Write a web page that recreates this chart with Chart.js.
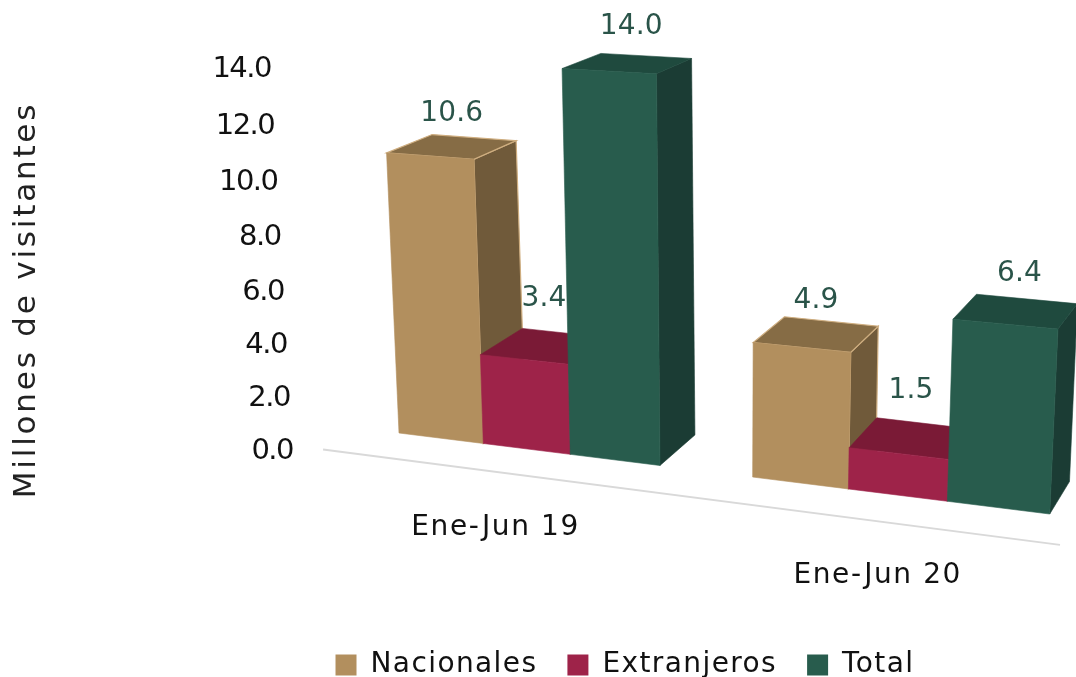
<!DOCTYPE html>
<html><head><meta charset="utf-8">
<style>html,body{margin:0;padding:0;background:#fff;overflow:hidden}canvas{display:block;filter:blur(.4px)}</style>
<script src="https://cdn.jsdelivr.net/npm/chart.js@4"></script>
</head><body><canvas id="c" width="1076" height="677"></canvas>
<script>
const categories = ['Ene-Jun 19', 'Ene-Jun 20'];
const nacionales = [10.6, 4.9];
const extranjeros = [3.4, 1.5];
const total = [14.0, 6.4];
const seriesNames = ['Nacionales', 'Extranjeros', 'Total'];
const frontColors = ['#B28F5E', '#9E2349', '#285C4D'];
const topColors = ['#866C45', '#7A1A36', '#1F4A3E'];
const sideColors = ['#705A3A', '#7A1A36', '#1B3C34'];
const edgeColors = ['#CFAE80', null, null];
const labelLift = [33, 47, 37];
const labelShift = [-1, -1, 3];

const FONT = '"DejaVu Sans"';
const H = {a:76.9,b:-2.51,h:399,c:-.0153,g:-.00346,d:3.71,e:-26.95,f:433};
const VP = [1556,-319], DEPTH = .039;
function project(s,v){const w=1+H.c*s+H.g*v;return [(H.a*s+H.b*v+H.h)/w,(H.d*s+H.e*v+H.f)/w];}
function deep(p,k){return [p[0]+k*(VP[0]-p[0]),p[1]+k*(VP[1]-p[1])];}
function poly(ctx,pts,fill,stroke){ctx.beginPath();pts.forEach((p,i)=>i?ctx.lineTo(p[0],p[1]):ctx.moveTo(p[0],p[1]));ctx.closePath();ctx.fillStyle=fill;ctx.fill();ctx.strokeStyle=stroke||fill;ctx.lineWidth=stroke?1.2:.6;ctx.stroke();}
function text(ctx,str,x,y,color,size,spacing){ctx.font=size+'px '+FONT;ctx.letterSpacing=spacing+'px';ctx.fillStyle=color;ctx.textAlign='center';ctx.textBaseline='middle';ctx.fillText(str,x,y);}

const box3d = {
  id:'box3d',
  beforeLayout(chart){chart.ctx.letterSpacing='1.4px';},
  afterLayout(chart){
    const s=chart.scales.y, orig=s.drawTitle, ctx=chart.ctx;
    if(!s._spaced){s._spaced=true;s.drawTitle=function(){ctx.save();ctx.letterSpacing='2.8px';orig.call(s);ctx.restore();};}
  },
  beforeDraw(chart){chart.ctx.letterSpacing='1.4px';},
  beforeDatasetDraw(){return false;},
  afterDatasetsDraw(chart){
    const ctx=chart.ctx, area=chart.chartArea, ys=chart.scales.y, xs=chart.scales.x;
    const toS=px=>(px-area.left)/area.width*8-.5;
    ctx.save();
    // floor line
    const f0=deep(project(-.5,0),-.029), f1=deep(project(7.25,0),-.033);
    ctx.beginPath();ctx.moveTo(f0[0],f0[1]);ctx.lineTo(f1[0],f1[1]);ctx.strokeStyle='#D9D9D9';ctx.lineWidth=2;ctx.stroke();
    // boxes, left to right
    const items=[];
    chart.data.datasets.forEach((ds,di)=>{chart.getDatasetMeta(di).data.forEach((el,i)=>{
      const p=el.getProps(['x','y','width'],true);
      items.push({di,i,s0:toS(p.x-p.width/2),s1:toS(p.x+p.width/2),v:ys.getValueForPixel(p.y),val:ds.data[i]});
    });});
    items.sort((a,b)=>a.s0-b.s0);
    items.forEach(b=>{
      const fl=project(b.s0,0),fr=project(b.s1,0),tl=project(b.s0,b.v),tr=project(b.s1,b.v);
      const e=edgeColors[b.di];
      poly(ctx,[fr,tr,deep(tr,DEPTH),deep(fr,DEPTH)],sideColors[b.di],e);
      poly(ctx,[tl,tr,deep(tr,DEPTH),deep(tl,DEPTH)],topColors[b.di],e);
      poly(ctx,[fl,fr,tr,tl],frontColors[b.di]);
    });
    // value labels
    items.forEach(b=>{
      const tl=project(b.s0,b.v),tr=project(b.s1,b.v);
      const m=deep([(tl[0]+tr[0])/2,(tl[1]+tr[1])/2],.02);
      text(ctx,b.val.toFixed(1),m[0]+labelShift[b.di],m[1]-labelLift[b.di],'#2A5449',28,.2);
    });
    // y tick labels
    ys.ticks.forEach(t=>{
      const w=1+H.g*t.value;
      ctx.font='29px '+FONT;ctx.letterSpacing='-1.5px';ctx.fillStyle='#111';ctx.textAlign='right';ctx.textBaseline='middle';
      ctx.fillText(t.value.toFixed(1),(293+H.b*t.value)/w,(449-27.5*t.value)/w+2);
    });
    // category labels
    categories.forEach((c,i)=>{
      const s=toS(xs.getPixelForTick(i));
      const p=deep(project(s,0),-.03);
      text(ctx,c,p[0],p[1]+56,'#111',28,1.6);
    });
    ctx.restore();
  }
};

new Chart(document.getElementById('c'),{
  type:'bar',
  data:{labels:categories,datasets:[
    {label:seriesNames[0],data:nacionales,backgroundColor:frontColors[0]},
    {label:seriesNames[1],data:extranjeros,backgroundColor:frontColors[1]},
    {label:seriesNames[2],data:total,backgroundColor:frontColors[2]}
  ]},
  options:{
    responsive:false,animation:false,
    layout:{padding:{top:67,bottom:-12,right:-174,left:0}},
    datasets:{bar:{categoryPercentage:.75,barPercentage:1}},
    plugins:{
      tooltip:{enabled:false},
      legend:{position:'bottom',labels:{boxWidth:21,boxHeight:21,padding:30,color:'#111',font:{family:FONT,size:28}}}
    },
    scales:{
      x:{grid:{display:false},border:{display:false},ticks:{display:false},afterFit(s){s.height=88;}},
      y:{min:0,max:14,grid:{display:false},border:{display:false},
        ticks:{display:false,stepSize:2},
        title:{display:true,text:'Millones de visitantes',color:'#222',font:{family:FONT,size:31},padding:{top:8,bottom:0}},
        afterFit(s){s.width=322;}}
    }
  },
  plugins:[box3d]
});
</script></body></html>
